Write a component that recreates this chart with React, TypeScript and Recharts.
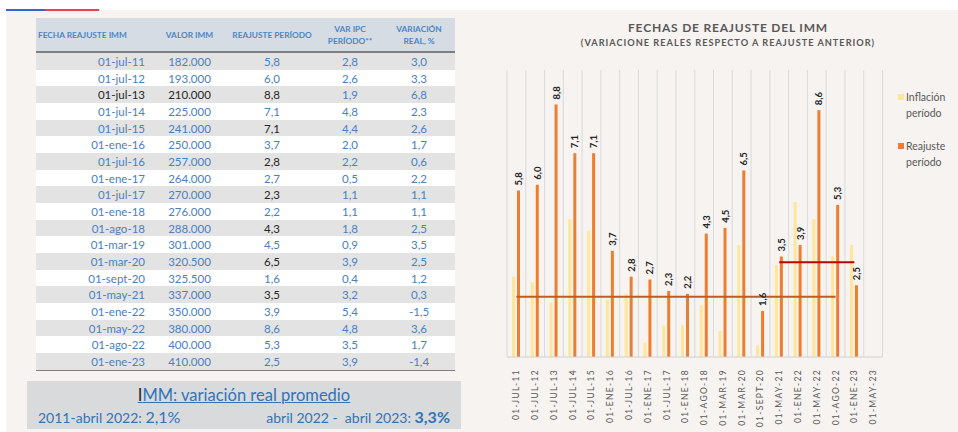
import React from "react";
import {
  Bar,
  BarChart,
  CartesianGrid,
  LabelList,
  ReferenceLine,
  XAxis,
  YAxis,
} from "recharts";

// --- datos de la tabla ---
const fechasTabla = [
  "01-jul-11", "01-jul-12", "01-jul-13", "01-jul-14", "01-jul-15", "01-ene-16",
  "01-jul-16", "01-ene-17", "01-jul-17", "01-ene-18", "01-ago-18", "01-mar-19",
  "01-mar-20", "01-sept-20", "01-may-21", "01-ene-22", "01-may-22", "01-ago-22",
  "01-ene-23",
];
const valorImm = [
  182000, 193000, 210000, 225000, 241000, 250000, 257000, 264000, 270000, 276000,
  288000, 301000, 320500, 325500, 337000, 350000, 380000, 400000, 410000,
];
const reajuste = [5.8, 6.0, 8.8, 7.1, 7.1, 3.7, 2.8, 2.7, 2.3, 2.2, 4.3, 4.5, 6.5, 1.6, 3.5, 3.9, 8.6, 5.3, 2.5];
const varIpc = [2.8, 2.6, 1.9, 4.8, 4.4, 2.0, 2.2, 0.5, 1.1, 1.1, 1.8, 0.9, 3.9, 0.4, 3.2, 5.4, 4.8, 3.5, 3.9];
const variacionReal = [3.0, 3.3, 6.8, 2.3, 2.6, 1.7, 0.6, 2.2, 1.1, 1.1, 2.5, 3.5, 2.5, 1.2, 0.3, -1.5, 3.6, 1.7, -1.4];

// --- datos del gráfico ---
const categorias = [
  "01-JUL-11", "01-JUL-12", "01-JUL-13", "01-JUL-14", "01-JUL-15", "01-ENE-16",
  "01-JUL-16", "01-ENE-17", "01-JUL-17", "01-ENE-18", "01-AGO-18", "01-MAR-19",
  "01-MAR-20", "01-SEPT-20", "01-MAY-21", "01-ENE-22", "01-MAY-22", "01-AGO-22",
  "01-ENE-23", "01-MAY-23",
];
const promedio2011a2022 = 2.1;
const promedio2022a2023 = 3.3;

const data = categorias.map((fecha, i) => ({
  fecha,
  inflacion: varIpc[i] ?? null,
  reajuste: reajuste[i] ?? null,
}));

const BLUE = "#4a80c0";
const DARK = "#262626";
const GRAY_TXT = "#595959";
const BG = "#f6f3f0";
const YELLOW = "#ffe699";
const ORANGE = "#ed7d31";

// celdas que en el original van en negro
const filasOscuras = [2];
const reajusteOscuro = [2, 4, 6, 8, 10, 12, 14];

const fmt = (v: number) => v.toFixed(1).replace(".", ",");
const fmtMiles = (v: number) => String(v).replace(/\B(?=(\d{3})+(?!\d))/g, ".");

const COLS = [116, 75, 90, 66, 72];
const ROW_H = 16.68;

function Tabla() {
  const head: React.CSSProperties = {
    fontFamily: "Lato, sans-serif",
    fontWeight: 700,
    fontSize: 8.3,
    color: "#4a86c5",
    lineHeight: "12px",
  };
  const cell = (w: number, align: "left" | "center" | "right", extra?: React.CSSProperties) => ({
    width: w,
    textAlign: align,
    boxSizing: "border-box" as const,
    ...extra,
  });
  return (
    <div style={{ position: "absolute", left: 36, top: 18, width: 419 }}>
      <div
        style={{
          display: "flex",
          alignItems: "center",
          height: 33,
          background: "#d6dce4",
          borderBottom: "2.5px solid #7f7f7f",
          ...head,
        }}
      >
        <div style={cell(COLS[0], "left", { paddingLeft: 2 })}>FECHA REAJUSTE IMM</div>
        <div style={cell(COLS[1], "center")}>VALOR IMM</div>
        <div style={cell(COLS[2], "center")}>REAJUSTE PERÍODO</div>
        <div style={cell(COLS[3], "center")}>VAR IPC<br />PERÍODO**</div>
        <div style={cell(COLS[4], "center")}>VARIACIÓN<br />REAL, %</div>
      </div>
      {fechasTabla.map((f, i) => {
        const dark = filasOscuras.includes(i);
        return (
          <div
            key={f}
            style={{
              display: "flex",
              alignItems: "center",
              height: ROW_H,
              background: i % 2 === 0 ? "#e3e3e3" : "#ffffff",
              fontFamily: "Lato, sans-serif",
              fontSize: 11.5,
              color: BLUE,
              borderBottom: i === fechasTabla.length - 1 ? "1.5px solid #7f7f7f" : undefined,
            }}
          >
            <div style={cell(COLS[0], "right", { paddingRight: 7, color: dark ? DARK : BLUE })}>{f}</div>
            <div style={cell(COLS[1], "center", { color: dark ? DARK : BLUE })}>{fmtMiles(valorImm[i])}</div>
            <div style={cell(COLS[2], "center", { color: reajusteOscuro.includes(i) ? DARK : BLUE })}>{fmt(reajuste[i])}</div>
            <div style={cell(COLS[3], "center")}>{fmt(varIpc[i])}</div>
            <div style={cell(COLS[4], "center")}>{fmt(variacionReal[i])}</div>
          </div>
        );
      })}
    </div>
  );
}

function Resumen() {
  return (
    <div
      style={{
        position: "absolute",
        left: 27,
        top: 381,
        width: 434,
        height: 48,
        background: "#d9dadc",
        fontFamily: "Lato, sans-serif",
        color: "#3273b8",
      }}
    >
      <div style={{ position: "absolute", top: 4, width: "100%", textAlign: "center", fontSize: 16.5 }}>
        <span style={{ textDecoration: "underline" }}>
          <span style={{ color: DARK }}>I</span>MM: variación real promedio
        </span>
      </div>
      <div style={{ position: "absolute", left: 11, top: 26, fontSize: 14 }}>
        2011-abril 2022: <span style={{ fontSize: 16 }}>{fmt(promedio2011a2022)}%</span>
      </div>
      <div style={{ position: "absolute", right: 11, top: 26, fontSize: 14, whiteSpace: "pre" }}>
        abril 2022 -  abril 2023: <span style={{ fontSize: 16, fontWeight: 700 }}>{fmt(promedio2022a2023)}%</span>
      </div>
    </div>
  );
}

const FechaTick = ({ x, y, payload }: any) => (
  <text
    x={x}
    y={y}
    transform={`rotate(-90, ${x}, ${y})`}
    textAnchor="end"
    dominantBaseline="central"
    fontFamily="Lato, sans-serif"
    fontSize={8.5}
    letterSpacing={1.3}
    fill={GRAY_TXT}
  >
    {payload.value}
  </text>
);

const ValorLabel = (props: any) => {
  const { x, y, width, value } = props;
  if (value == null) return null;
  const cx = x + width / 2;
  const cy = y - 5;
  return (
    <text
      x={cx}
      y={cy}
      transform={`rotate(-90, ${cx}, ${cy})`}
      textAnchor="start"
      dominantBaseline="central"
      fontFamily="Lato, sans-serif"
      fontWeight={700}
      fontSize={9.5}
      fill={DARK}
    >
      {fmt(value)}
    </text>
  );
};

function Leyenda() {
  const item = (color: string, l1: string, top: number) => (
    <div style={{ position: "absolute", left: 898, top, fontFamily: "Lato, sans-serif", fontSize: 10.5, color: GRAY_TXT, lineHeight: "16px" }}>
      <span style={{ position: "absolute", left: 0, top: 5, width: 6, height: 6, background: color }} />
      <div style={{ paddingLeft: 8 }}>{l1}</div>
      <div style={{ paddingLeft: 8 }}>período</div>
    </div>
  );
  return (
    <>
      {item(YELLOW, "Inflación", 89)}
      {item(ORANGE, "Reajuste", 138)}
    </>
  );
}

function Grafico() {
  return (
    <div style={{ position: "absolute", left: 470, top: 0 }}>
      <div
        style={{
          position: "absolute",
          left: 0,
          top: 19,
          width: 516,
          textAlign: "center",
          fontFamily: "Lato, sans-serif",
          fontWeight: 700,
          color: GRAY_TXT,
        }}
      >
        <div style={{ fontSize: 12, letterSpacing: 0.8, lineHeight: "17px" }}>FECHAS DE REAJUSTE DEL IMM</div>
        <div style={{ fontSize: 9.2, letterSpacing: 1.0, lineHeight: "14px" }}>
          (VARIACIONE REALES RESPECTO A REAJUSTE ANTERIOR)
        </div>
      </div>
      <BarChart
        width={488}
        height={432}
        data={data}
        margin={{ top: 70, right: 75.5, left: 37, bottom: 20 }}
        barSize={3}
        barGap={2}
      >
        <CartesianGrid
          horizontal={false}
          stroke="#dadada"
          verticalCoordinatesGenerator={({ offset }: any) =>
            Array.from({ length: categorias.length + 1 }, (_, i) => offset.left + (i * offset.width) / categorias.length)
          }
        />
        <XAxis
          dataKey="fecha"
          interval={0}
          tickLine={false}
          axisLine={{ stroke: "#d0d0d0" }}
          height={55}
          tick={<FechaTick />}
          tickMargin={6}
        />
        <YAxis hide domain={[0, 10]} />
        <Bar dataKey="inflacion" name="Inflación período" fill={YELLOW} isAnimationActive={false} />
        <Bar dataKey="reajuste" name="Reajuste período" fill={ORANGE} isAnimationActive={false}>
          <LabelList dataKey="reajuste" content={<ValorLabel />} />
        </Bar>
        <ReferenceLine
          segment={[
            { x: categorias[0], y: promedio2011a2022 },
            { x: "01-AGO-22", y: promedio2011a2022 },
          ]}
          stroke="#c55a1a"
          strokeWidth={2}
        />
        <ReferenceLine
          segment={[
            { x: "01-MAY-21", y: promedio2022a2023 },
            { x: "01-ENE-23", y: promedio2022a2023 },
          ]}
          stroke="#c00000"
          strokeWidth={2}
        />
      </BarChart>
    </div>
  );
}

export default function App() {
  return (
    <div style={{ position: "absolute", left: 0, top: 0, width: 958, height: 432, background: "#fff", overflow: "hidden" }}>
      <div style={{ position: "absolute", left: 6, top: 10, right: 0, bottom: 0, background: BG }} />
      <div style={{ position: "absolute", left: 6, top: 9, width: 39, height: 1.5, background: "#3567c4" }} />
      <div style={{ position: "absolute", left: 45, top: 9, width: 54, height: 1.5, background: "#e8414c" }} />
      <Tabla />
      <Resumen />
      <Grafico />
      <Leyenda />
    </div>
  );
}
